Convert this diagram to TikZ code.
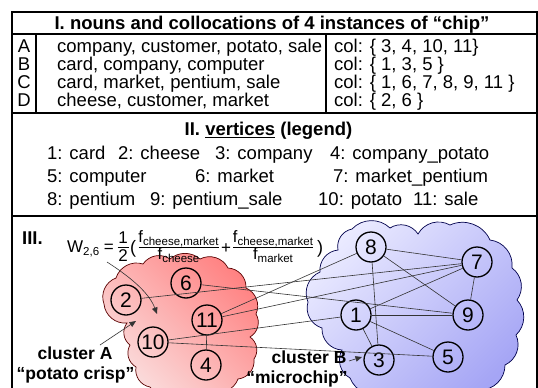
\documentclass[tikz,border=0pt]{standalone}
\usepackage{fontspec}
\setmainfont{Liberation Sans}
\usetikzlibrary{arrows.meta}
\definecolor{redlight}{RGB}{250,224,224}
\definecolor{reddark}{RGB}{255,130,130}
\definecolor{bluelight}{RGB}{234,234,255}
\definecolor{bluedark}{RGB}{165,165,245}
\newcommand{\fsub}[1]{f\raisebox{-3pt}{\fontsize{11.5}{12}\selectfont #1}}
\begin{document}
\begin{tikzpicture}[x=1pt,y=-1pt,
  txt/.style={inner sep=0pt, anchor=base west, font=\fontsize{18.5}{22}\selectfont},
  ctxt/.style={inner sep=0pt, anchor=base, font=\fontsize{18.5}{22}\selectfont},
  btxt/.style={inner sep=0pt, anchor=base, font=\fontsize{18.5}{22}\selectfont\bfseries},
  ltxt/.style={inner sep=0pt, anchor=base, font=\fontsize{17.5}{20}\selectfont\bfseries},
  ftxt/.style={inner sep=0pt, anchor=base, font=\fontsize{16.5}{18}\selectfont},
  fbar/.style={line width=0.8pt},
  tbl/.style={line width=1.5pt},
  sep/.style={line width=1.1pt},
  vtx/.style={circle, draw, line width=1.3pt, minimum size=30pt, inner sep=0pt, font=\fontsize{21}{24}\selectfont},
  lnk/.style={line width=0.6pt, draw=black!80},
  arr/.style={line width=0.6pt, draw=black!80, -{Triangle[length=6.5pt,width=5.5pt]}},
  cloudline/.style={line width=0.7pt}]
\useasboundingbox (0,0) rectangle (538,388);

% clouds
\path[cloudline, draw=red!35!black, top color=reddark, bottom color=redlight, shading angle=-45]
  (104,304) to[bend left=45] (116,278) to[bend left=45] (143,264) to[bend left=45] (170,259)
  to[bend left=40] (200,259) to[bend left=45] (228,268) to[bend left=45] (246,288)
  to[bend left=45] (256,314) to[bend left=45] (250,337) to[bend left=45] (254,359)
  to[bend left=45] (238,379) to[bend left=45] (212,391) to[bend left=40] (180,391)
  to[bend left=45] (150,387) to[bend left=45] (136,367) to[bend left=45] (130,345)
  to[bend left=45] (127,323) to[bend left=45] cycle;
\path[cloudline, draw=blue!30!black, top color=bluelight, bottom color=bluedark, shading angle=45]
  (308,302) to[bend left=45] (320,272) to[bend left=45] (338,250) to[bend left=45] (352,229)
  to[bend left=45] (390,228) to[bend left=45] (418,234) to[bend left=45] (450,225)
  to[bend left=45] (490,240) to[bend left=45] (512,268) to[bend left=45] (517,300)
  to[bend left=45] (516,335) to[bend left=45] (505,365) to[bend left=45] (480,390)
  to[bend left=40] (430,393) to[bend left=40] (385,393) to[bend left=45] (350,378)
  to[bend left=45] (342,350) to[bend left=45] (322,328) to[bend left=45] cycle;

% table
\draw[tbl] (12,390) -- (12,12) -- (537,12) -- (537,390);
\draw[tbl] (12,34) -- (537,34);
\draw[tbl] (12,113) -- (537,113);
\draw[tbl] (12,216) -- (537,216);
\draw[sep] (36,34) -- (36,113);
\draw[sep] (326,34) -- (326,113);

\node[btxt] (t1) at (272,29.5) {I. nouns and collocations of 4 instances of “chip”};
\node[ctxt] (la) at (24,52.5) {A};
\node[ctxt] (lb) at (24,70.5) {B};
\node[ctxt] (lc) at (24,88.5) {C};
\node[ctxt] (ld) at (24,106.5) {D};
\node[txt] (na) at (57,52.5) {company, customer, potato, sale};
\node[txt] (nb) at (57,70.5) {card, company, computer};
\node[txt] (nc) at (57,88.5) {card, market, pentium, sale};
\node[txt] (nd) at (57,106.5) {cheese, customer, market};
\node[txt] (ca) at (334,52.5) {col: \{ 3, 4, 10, 11\}};
\node[txt] (cb) at (334,70.5) {col: \{ 1, 3, 5 \}};
\node[txt] (cc) at (334,88.5) {col: \{ 1, 6, 7, 8, 9, 11 \}};
\node[txt] (cd) at (334,106.5) {col: \{ 2, 6 \}};

\node[btxt] (t2) at (268.5,135.5) {II. \underline{vertices} (legend)};
\node[txt] (v1) at (47,159.5) {1: card};
\node[txt] (v2) at (118,159.5) {2: cheese};
\node[txt] (v3) at (215,159.5) {3: company};
\node[txt] (v4) at (330,159.5) {4: company\_potato};
\node[txt] (v5) at (47,182.5) {5: computer};
\node[txt] (v6) at (195,182.5) {6: market};
\node[txt] (v7) at (333,182.5) {7: market\_pentium};
\node[txt] (v8) at (47,205.5) {8: pentium};
\node[txt] (v9) at (150,205.5) {9: pentium\_sale};
\node[txt] (v10) at (318,205.5) {10: potato};
\node[txt] (v11) at (413,205.5) {11: sale};

\node[btxt, anchor=base west] (t3) at (22,244.5) {III.};

% formula
\node[ftxt, anchor=base west, font=\fontsize{17}{18}\selectfont] (fw) at (67,252)
  {W\raisebox{-3pt}{\fontsize{11.5}{12}\selectfont 2,6} =};
\node[ftxt, font=\fontsize{17}{18}\selectfont] (fone) at (123,243) {1};
\node[ftxt, font=\fontsize{17}{18}\selectfont] (ftwo) at (123,261) {2};
\coordinate (hb1) at (117.5,247.5); \coordinate (hb2) at (128.5,247.5);
\draw[fbar] (hb1) -- (hb2);
\node[ftxt, font=\fontsize{18}{18}\selectfont] (fpo) at (133,253) {(};
\node[ftxt] (fn1) at (178.5,242) {\fsub{cheese,market}};
\coordinate (ab1) at (138.5,247.5); \coordinate (ab2) at (218.5,247.5);
\draw[fbar] (ab1) -- (ab2);
\node[ftxt] (fd1) at (178.5,259.5) {\fsub{cheese}};
\node[ftxt, font=\fontsize{17}{18}\selectfont] (fplus) at (226,253) {+};
\node[ftxt] (fn2) at (273,242) {\fsub{cheese,market}};
\coordinate (bb1) at (233,247.5); \coordinate (bb2) at (313,247.5);
\draw[fbar] (bb1) -- (bb2);
\node[ftxt] (fd2) at (273,259.5) {\fsub{market}};
\node[ftxt, font=\fontsize{18}{18}\selectfont] (fpc) at (320,253) {)};

% vertices
\node[vtx] (n2) at (126,300) {2};
\node[vtx] (n6) at (186,283) {6};
\node[vtx] (n11) at (207,320) {11};
\node[vtx] (n10) at (153,342) {10};
\node[vtx] (n4) at (206,365) {4};
\node[vtx] (n8) at (371,247) {8};
\node[vtx] (n7) at (477,262) {7};
\node[vtx] (n1) at (356,315) {1};
\node[vtx] (n9) at (468,315) {9};
\node[vtx] (n3) at (379,360) {3};
\node[vtx] (n5) at (448,357) {5};

% edges
\draw[lnk] (n2) -- (n7);
\draw[lnk] (n6) -- (n9);
\draw[lnk] (n11) -- (n8);
\draw[lnk] (n11) -- (n7);
\draw[lnk] (n11) -- (n4);
\draw[lnk] (n10) -- (n1);
\draw[lnk] (n10) -- (n5);
\draw[lnk] (n8) -- (n7);
\draw[lnk] (n8) -- (n9);
\draw[lnk] (n8) -- (n3);
\draw[lnk] (n1) -- (n7);
\draw[lnk] (n1) -- (n9);
\draw[lnk] (n1) -- (n3);
\draw[lnk] (n1) -- (n5);
\draw[lnk] (n7) -- (n9);

% labels and arrows
\node[ltxt] (cla) at (75,359) {cluster A};
\node[ltxt] (clacap) at (75.5,379.5) {“potato crisp”};
\node[ltxt] (clb) at (309,363) {cluster B};
\node[ltxt] (clbcap) at (297,383) {“microchip”};
\coordinate (fa) at (107,262);
\coordinate (fb) at (157,314);
\coordinate (aa) at (100,345);
\coordinate (ab) at (136,321);
\coordinate (ba) at (349,361);
\coordinate (bb) at (362,357);
\draw[arr] (fa) .. controls (135,280) and (150,295) .. (fb);
\draw[arr] (aa) -- (ab);
\draw[arr] (ba) -- (bb);
\end{tikzpicture}
\end{document}
